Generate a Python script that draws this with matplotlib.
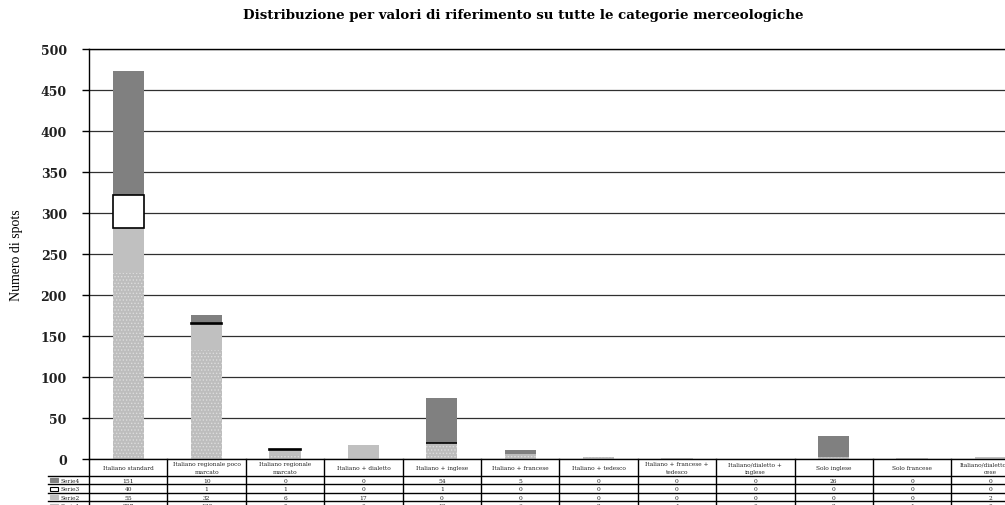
import matplotlib
matplotlib.use("Agg")
import matplotlib.pyplot as plt
import numpy as np
from matplotlib.patches import Rectangle

# Categories and stacked series (bottom to top: Serie1 .. Serie4)
categories = [
    "Italiano standard", "Italiano regionale poco\nmarcato", "Italiano regionale\nmarcato",
    "Italiano + dialetto", "Italiano + inglese", "Italiano + francese",
    "Italiano + tedesco", "Italiano + francese +\ntedesco", "Italiano/dialetto +\ninglese",
    "Solo inglese", "Solo francese", "Italiano/dialetto/fran\ncese",
]
serie1 = [227, 133, 5, 0, 19, 6, 2, 1, 0, 2, 1, 0]
serie2 = [55, 32, 6, 17, 0, 0, 0, 0, 0, 0, 0, 2]
serie3 = [40, 1, 1, 0, 1, 0, 0, 0, 0, 0, 0, 0]
serie4 = [151, 10, 0, 0, 54, 5, 0, 0, 0, 26, 0, 0]
series_names = ["Serie4", "Serie3", "Serie2", "Serie1"]
yticks = list(range(0, 501, 50))

plt.rcParams['hatch.linewidth'] = 0.6

fig = plt.figure(figsize=(10.05, 5.06), dpi=100)
ax = fig.add_axes([0.0886, 0.0909, 0.936, 0.810])

x = np.arange(len(categories))
w = 0.4
s1 = np.array(serie1)
s2 = np.array(serie2)
s3 = np.array(serie3)
s4 = np.array(serie4)

colors = {'Serie1': '#bdbdbd', 'Serie2': '#c0c0c0', 'Serie3': 'white', 'Serie4': '#808080'}
ax.bar(x, s1, w, color=colors['Serie1'], edgecolor='#dcdcdc', linewidth=0, hatch='.....', zorder=2)
ax.bar(x, s2, w, bottom=s1, color=colors['Serie2'], linewidth=0, zorder=2)
ax.bar(x, s3, w, bottom=s1 + s2, color=colors['Serie3'], edgecolor='black',
       linewidth=[1.2 if v else 0 for v in serie3], zorder=3)
ax.bar(x, s4, w, bottom=s1 + s2 + s3, color=colors['Serie4'], linewidth=0, zorder=2)

ax.set_xlim(-0.5, len(categories) - 0.5)
ax.set_ylim(0, 500)
ax.set_yticks(yticks)
ax.set_xticks([])
ax.yaxis.grid(True, color='#303030', linewidth=0.9)
ax.set_axisbelow(True)
ax.spines['right'].set_visible(False)
for side in ('left', 'bottom', 'top'):
    ax.spines[side].set_color('black')
    ax.spines[side].set_linewidth(1.0)
ax.tick_params(axis='y', direction='out', length=5, width=1, pad=11)
for lbl in ax.get_yticklabels():
    lbl.set_fontfamily('DejaVu Serif')
    lbl.set_fontweight('bold')
    lbl.set_fontsize(9)
    lbl.set_color('#202020')

fig.text(0.521, 0.970, "Distribuzione per valori di riferimento su tutte le categorie merceologiche",
         ha='center', va='center', fontsize=9.6, fontweight='bold', family='DejaVu Serif')
fig.text(0.016, 1 - 255 / 506, "Numero di spots", rotation=90, ha='center', va='center',
         fontsize=10, family='Liberation Serif')

# Data table drawn under the plot, in axes coordinates
rows = [serie4, serie3, serie2, serie1]
axw_px, axh_px = 941.0, 410.0
label_w = 41.0 / axw_px
head_h, row_h = 17.0 / axh_px, 8.5 / axh_px
ncol = len(categories)
tkw = dict(transform=ax.transAxes, clip_on=False)
line_kw = dict(color='black', linewidth=1.0, **tkw)

y_edges = [0, -head_h] + [-head_h - row_h * (i + 1) for i in range(len(rows))]
# vertical separators between columns
for k in range(ncol + 1):
    ax.plot([k / ncol, k / ncol], [0, y_edges[-1]], **line_kw)
# header bottom and row separators
for y in y_edges[1:]:
    ax.plot([-label_w, 1], [y, y], **line_kw)

for k, cat in enumerate(categories):
    ax.text((k + 0.5) / ncol, -head_h / 2, cat, ha='center', va='center', fontsize=4.2,
            family='DejaVu Serif', color='#222222', linespacing=1.6, **tkw)
for i, (name, vals) in enumerate(zip(series_names, rows)):
    yc = -head_h - row_h * (i + 0.5)
    ax.add_patch(Rectangle((-39 / axw_px, yc - 2 / axh_px), 8 / axw_px, 4 / axh_px,
                           facecolor=colors[name],
                           edgecolor='black' if name == 'Serie3' else colors[name],
                           linewidth=0.8, zorder=5, **tkw))
    ax.text(-29 / axw_px, yc, name, ha='left', va='center', fontsize=4.2,
            family='DejaVu Serif', color='#222222', **tkw)
    for k, v in enumerate(vals):
        ax.text((k + 0.5) / ncol, yc, str(v), ha='center', va='center', fontsize=4.2,
                family='DejaVu Serif', color='#222222', **tkw)

fig.savefig("out.png", dpi=100)
